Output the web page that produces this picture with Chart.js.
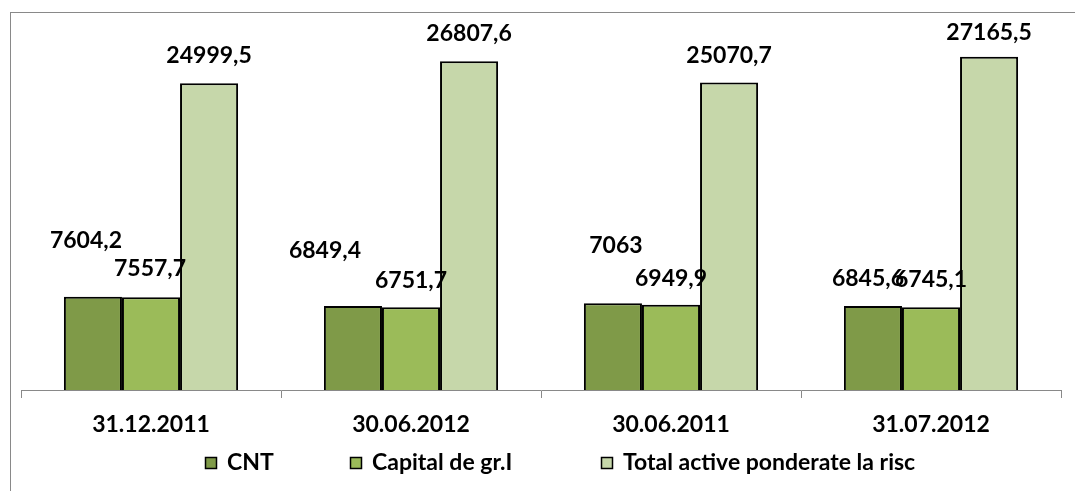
<!DOCTYPE html>
<html>
<head>
<meta charset="utf-8">
<script src="https://cdn.jsdelivr.net/npm/chart.js@4"></script>
<style>
  html, body { margin: 0; padding: 0; background: #fff; }
</style>
</head>
<body>
<canvas id="chart" width="1075" height="491"></canvas>
<script>
// === Data ===
const categories = ['31.12.2011', '30.06.2012', '30.06.2011', '31.07.2012'];
const seriesNames = ['CNT', 'Capital de gr.I', 'Total active ponderate la risc'];
const cntValues = [7604.2, 6849.4, 7063, 6845.6];
const capitalValues = [7557.7, 6751.7, 6949.9, 6745.1];
const totalValues = [24999.5, 26807.6, 25070.7, 27165.5];

// === Style ===
const colors = ['#7F9A48', '#9BBB59', '#C6D7AA'];
const FONT = { family: 'Lato', weight: 'bold', size: 23 };
// label nudges (px) per series, like the hand-moved labels in the original
const labelShift = [
  { dx: [-7, -28, 3, -5], dy: [56, 55, 58, 27] },
  { dx: [-1, 0, 0, 0], dy: [29, 27, 26, 28] },
  { dx: [0, 0, 0, 0], dy: [28, 28, 27, 24] }
];
const legendX = [205, 350, 601];

function fmt(v) {
  return String(v).replace('.', ',');
}

// frame around the chart
const framePlugin = {
  id: 'frame',
  beforeDraw(chart) {
    const ctx = chart.ctx;
    ctx.save();
    ctx.strokeStyle = '#898989';
    ctx.lineWidth = 1;
    ctx.strokeRect(10.5, 12.5, 2000, 1000);
    ctx.restore();
  }
};

// value labels above bars
const valueLabels = {
  id: 'valueLabels',
  afterDatasetsDraw(chart) {
    const ctx = chart.ctx;
    ctx.save();
    ctx.font = `${FONT.weight} ${FONT.size}px ${FONT.family}`;
    ctx.fillStyle = '#000';
    ctx.textAlign = 'center';
    ctx.textBaseline = 'middle';
    chart.data.datasets.forEach((ds, i) => {
      chart.getDatasetMeta(i).data.forEach((bar, j) => {
        const s = labelShift[i];
        ctx.fillText(fmt(ds.data[j]), bar.x + s.dx[j], bar.y - s.dy[j]);
      });
    });
    ctx.restore();
  }
};

// legend drawn by hand to sit where the original puts it
const bottomLegend = {
  id: 'bottomLegend',
  afterDraw(chart) {
    const ctx = chart.ctx;
    ctx.save();
    ctx.font = `${FONT.weight} ${FONT.size}px ${FONT.family}`;
    ctx.textBaseline = 'middle';
    ctx.textAlign = 'left';
    chart.data.datasets.forEach((ds, i) => {
      const x = legendX[i];
      ctx.fillStyle = ds.backgroundColor;
      ctx.fillRect(x, 457, 11, 11);
      ctx.strokeStyle = '#000';
      ctx.lineWidth = 1.5;
      ctx.strokeRect(x + 0.5, 457.5, 11, 11);
      ctx.fillStyle = '#000';
      ctx.fillText(ds.label, x + 22, 463);
    });
    ctx.restore();
  }
};

new Chart(document.getElementById('chart'), {
  type: 'bar',
  data: {
    labels: categories,
    datasets: [
      { label: seriesNames[0], data: cntValues, backgroundColor: colors[0] },
      { label: seriesNames[1], data: capitalValues, backgroundColor: colors[1] },
      { label: seriesNames[2], data: totalValues, backgroundColor: colors[2] }
    ].map(d => Object.assign(d, { borderColor: '#000', borderWidth: 2 }))
  },
  options: {
    responsive: false,
    animation: false,
    layout: { padding: { left: 21, right: 14, top: 22, bottom: 0 } },
    datasets: { bar: { categoryPercentage: 0.67, barPercentage: 1 } },
    plugins: {
      legend: { display: false },
      tooltip: { enabled: false }
    },
    scales: {
      x: {
        grid: {
          drawOnChartArea: false,
          drawTicks: true,
          tickLength: 8,
          color: '#898989',
          offset: true
        },
        border: { color: '#898989', width: 1 },
        ticks: { font: FONT, color: '#000', padding: 13, maxRotation: 0 },
        afterFit(scale) { scale.height = 101; }
      },
      y: { display: false, min: 0, max: 30000 }
    }
  },
  plugins: [framePlugin, valueLabels, bottomLegend]
});
</script>
</body>
</html>
